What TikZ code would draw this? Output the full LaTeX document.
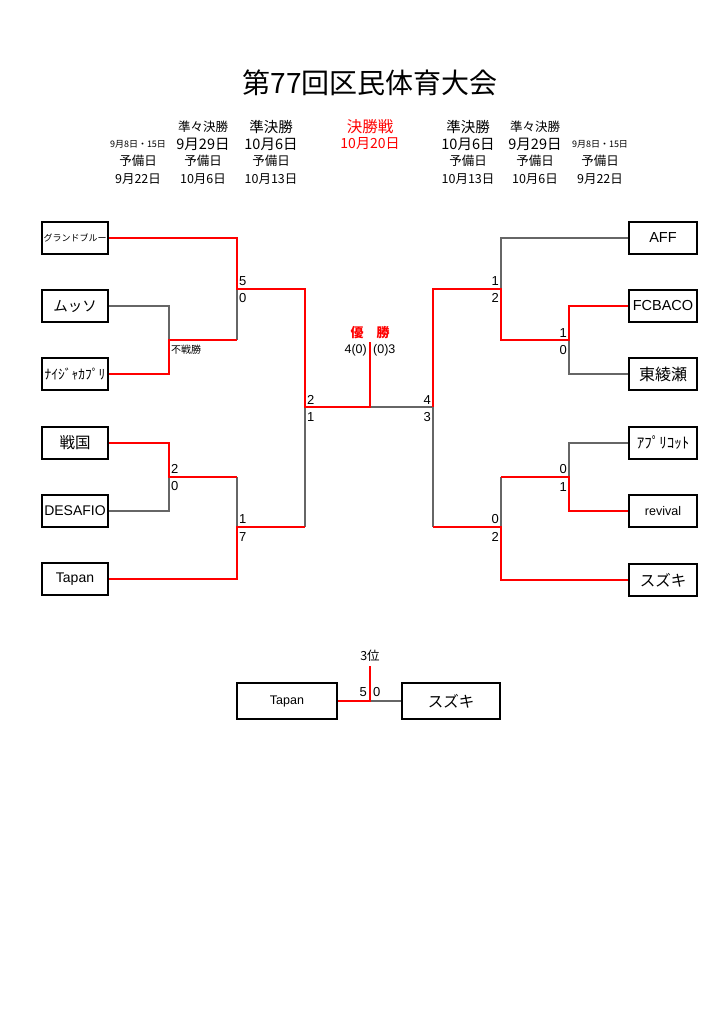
\documentclass[tikz,border=0pt]{standalone}
\usepackage{fontspec}
\setmainfont{Noto Sans CJK JP}
\newfontfamily\lat{Liberation Sans}
\newcommand\fsz[1]{\fontsize{#1}{#1}\selectfont}
\begin{document}
\begin{tikzpicture}[x=1pt,y=-1pt,
  team/.style={draw, line width=2.3pt, minimum width=66pt, minimum height=32pt, inner sep=0pt},
  rteam/.style={team, minimum width=68pt},
  win/.style={draw=red, line width=2.3pt},
  lose/.style={draw=black!60, line width=1.1pt},
  sc/.style={font=\lat\fsz{13}, inner sep=0pt},
  hd/.style={inner sep=0pt}]
\fill[white] (0,0) rectangle (724,1024);
\useasboundingbox (0,0) rectangle (724,1024);

% title
\node[font=\fsz{28}] (title) at (370,83) {第77回区民体育大会};

% header, left
\node[hd,font=\fsz{9}] (l1a) at (138,144) {9月8日・15日};
\node[hd,font=\fsz{12.5}] (l1b) at (138,161) {予備日};
\node[hd,font=\fsz{12.5}] (l1c) at (138,179) {9月22日};
\node[hd,font=\fsz{12.5}] (l2a) at (203,127) {準々決勝};
\node[hd,font=\fsz{14.5}] (l2b) at (203,144) {9月29日};
\node[hd,font=\fsz{12.5}] (l2c) at (203,161) {予備日};
\node[hd,font=\fsz{12.5}] (l2d) at (203,179) {10月6日};
\node[hd,font=\fsz{14.5}] (l3a) at (271,127) {準決勝};
\node[hd,font=\fsz{14.5}] (l3b) at (271,144) {10月6日};
\node[hd,font=\fsz{12.5}] (l3c) at (271,161) {予備日};
\node[hd,font=\fsz{12.5}] (l3d) at (271,179) {10月13日};
% header, centre
\node[hd,font=\fsz{15.5},text=red] (ca) at (370,127) {決勝戦};
\node[hd,font=\fsz{14},text=red] (cb) at (370,144) {10月20日};
% header, right
\node[hd,font=\fsz{14.5}] (r3a) at (468,127) {準決勝};
\node[hd,font=\fsz{14.5}] (r3b) at (468,144) {10月6日};
\node[hd,font=\fsz{12.5}] (r3c) at (468,161) {予備日};
\node[hd,font=\fsz{12.5}] (r3d) at (468,179) {10月13日};
\node[hd,font=\fsz{12.5}] (r2a) at (535,127) {準々決勝};
\node[hd,font=\fsz{14.5}] (r2b) at (535,144) {9月29日};
\node[hd,font=\fsz{12.5}] (r2c) at (535,161) {予備日};
\node[hd,font=\fsz{12.5}] (r2d) at (535,179) {10月6日};
\node[hd,font=\fsz{9}] (r1a) at (600,144) {9月8日・15日};
\node[hd,font=\fsz{12.5}] (r1b) at (600,161) {予備日};
\node[hd,font=\fsz{12.5}] (r1c) at (600,179) {9月22日};

% teams left
\node[team,font=\fsz{9}] (gb) at (75,238) {グランドブルー};
\node[team,font=\fsz{14.5}] (mu) at (75,306) {ムッソ};
\node[team,font=\fsz{13.5}] (na) at (75,374) {ﾅｲｼﾞｬｶﾌﾟﾘ};
\node[team,font=\fsz{15.5}] (se) at (75,443) {戦国};
\node[team,font=\lat\fsz{14}] (de) at (75,511) {DESAFIO};
\node[team,font=\lat\fsz{14}] (ta) at (75,579) {Tapan};
% teams right
\node[rteam,font=\lat\fsz{14.5}] (af) at (663,238) {AFF};
\node[rteam,font=\lat\fsz{14.5}] (fc) at (663,306) {FCBACO};
\node[rteam,font=\fsz{16}] (hi) at (663,374) {東綾瀬};
\node[rteam,font=\fsz{15}] (ap) at (663,443) {ｱﾌﾟﾘｺｯﾄ};
\node[rteam,font=\lat\fsz{12.5}] (rv) at (663,511) {revival};
\node[rteam,font=\fsz{15.5}] (su) at (663,580) {スズキ};
% third place
\node[team,minimum width=100pt,minimum height=36pt,font=\lat\fsz{12.5}] (t3) at (287,701) {Tapan};
\node[team,minimum width=98pt,minimum height=36pt,font=\fsz{15.5}] (s3) at (451,701) {スズキ};

% junctions
\coordinate (j1) at (237,289);
\coordinate (j2) at (169,340);
\coordinate (j2r) at (237,340);
\coordinate (j3) at (305,407);
\coordinate (j4) at (169,477);
\coordinate (j4r) at (237,477);
\coordinate (j5) at (237,527);
\coordinate (j5r) at (305,527);
\coordinate (jc) at (370,407);
\coordinate (jt) at (370,342);
\coordinate (j6) at (433,407);
\coordinate (k1) at (501,289);
\coordinate (k2) at (569,340);
\coordinate (k3) at (569,477);
\coordinate (k3l) at (501,477);
\coordinate (k4) at (501,527);
\coordinate (k4l) at (433,527);
\coordinate (m3) at (370,701);
\coordinate (m3t) at (370,666);

% losing paths
\draw[lose] (mu.east) -| (j2);
\draw[lose] (j2r) -- (j1);
\draw[lose] (de.east) -| (j4);
\draw[lose] (j4r) -- (j5);
\draw[lose] (j5r) -- (j3);
\draw[lose] (jc) -- (j6);
\draw[lose] (af.west) -| (k1);
\draw[lose] (hi.west) -| (k2);
\draw[lose] (ap.west) -| (k3);
\draw[lose] (k3l) -- (k4);
\draw[lose] (k4l) -- (j6);
\draw[lose] (s3.west) -- (m3);

% winning paths
\draw[win] (gb.east) -| (j1) -| (j3) -- (jc) -- (jt);
\draw[win] (na.east) -| (j2) -- (j2r);
\draw[win] (se.east) -| (j4) -- (j4r);
\draw[win] (ta.east) -| (j5) -- (j5r);
\draw[win] (fc.west) -| (k2) -| (k1) -| (j6);
\draw[win] (rv.west) -| (k3) -- (k3l);
\draw[win] (su.west) -| (k4) -- (k4l);
\draw[win] (t3.east) -- (m3) -- (m3t);

% scores left
\node[sc,anchor=west] (s1a) at (239,281) {5};
\node[sc,anchor=west] (s1b) at (239,298) {0};
\node[inner sep=0pt,anchor=west,font=\fsz{10}] (fs) at (171,350) {不戦勝};
\node[sc,anchor=west] (s2a) at (171,469) {2};
\node[sc,anchor=west] (s2b) at (171,486) {0};
\node[sc,anchor=west] (s3a) at (239,519) {1};
\node[sc,anchor=west] (s3b) at (239,537) {7};
\node[sc,anchor=west] (s4a) at (307,400) {2};
\node[sc,anchor=west] (s4b) at (307,417) {1};
% scores right
\node[sc,anchor=east] (s5a) at (431,400) {4};
\node[sc,anchor=east] (s5b) at (431,417) {3};
\node[sc,anchor=east] (s6a) at (499,281) {1};
\node[sc,anchor=east] (s6b) at (499,298) {2};
\node[sc,anchor=east] (s7a) at (567,333) {1};
\node[sc,anchor=east] (s7b) at (567,350) {0};
\node[sc,anchor=east] (s8a) at (567,469) {0};
\node[sc,anchor=east] (s8b) at (567,487) {1};
\node[sc,anchor=east] (s9a) at (499,519) {0};
\node[sc,anchor=east] (s9b) at (499,537) {2};
% final
\node[inner sep=0pt,font=\bfseries\fsz{13},text=red] (yu) at (370,333) {優　勝};
\node[sc,anchor=east,font=\lat\fsz{12.5}] (fl) at (367,350) {4(0)};
\node[sc,anchor=west,font=\lat\fsz{12.5}] (fr) at (373,350) {(0)3};
% third place
\node[inner sep=0pt,font=\fsz{12.5}] (p3) at (370,656) {3位};
\node[sc,anchor=east] (t3s) at (367,692) {5};
\node[sc,anchor=west] (s3s) at (373,692) {0};
\end{tikzpicture}
\end{document}
